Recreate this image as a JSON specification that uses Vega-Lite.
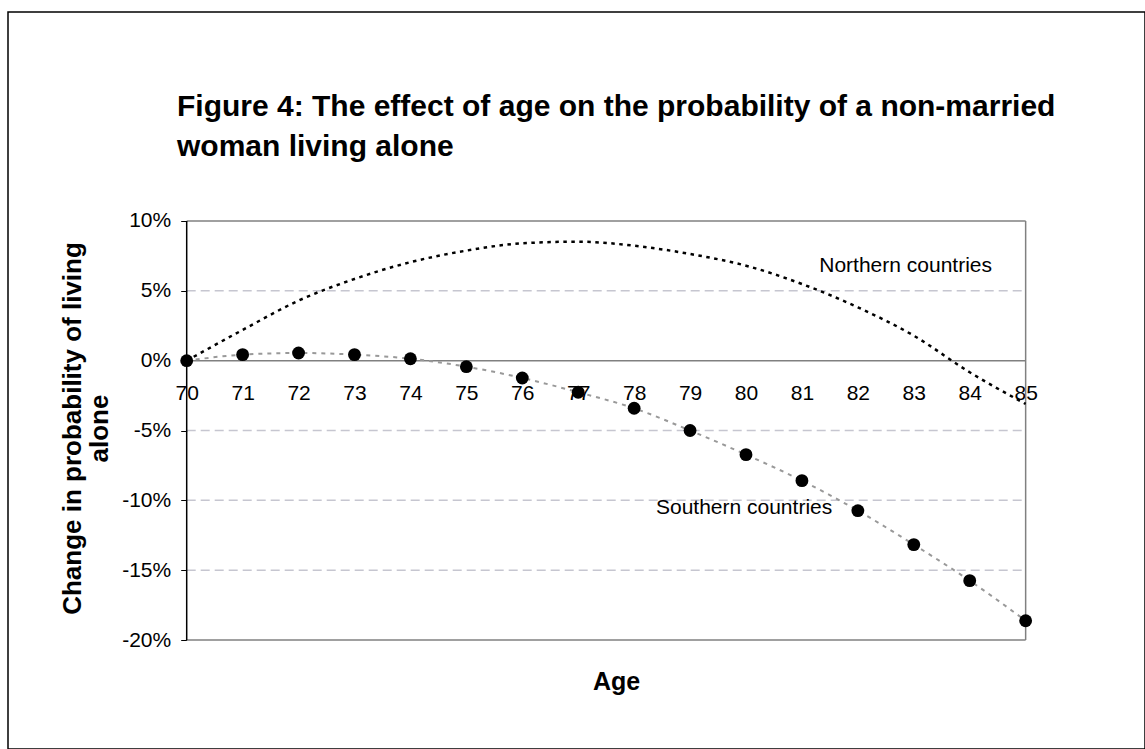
{
  "$schema": "https://vega.github.io/schema/vega-lite/v6.json",
  "width": 1137,
  "height": 737,
  "autosize": {"type": "none"},
  "padding": {"left": 8, "top": 12, "right": 0, "bottom": 0},
  "background": "white",
  "config": {"view": {"stroke": "#000", "strokeWidth": 1.5}, "font": "Liberation Sans"},
  "title": {
    "text": ["Figure 4: The effect of age on the probability of a non-married", "woman living alone"],
    "anchor": "start", "frame": "group", "orient": "top", "offset": -180, "dx": 169,
    "fontSize": 30, "fontWeight": "bold", "color": "#000", "lineHeight": 40, "baseline": "bottom", "font": "Liberation Sans"
  },
  "datasets": {
    "series": [
      {"age": 70, "series": "Northern", "value": 0},
      {"age": 71, "series": "Northern", "value": 2.2},
      {"age": 72, "series": "Northern", "value": 4.3},
      {"age": 73, "series": "Northern", "value": 5.85},
      {"age": 74, "series": "Northern", "value": 7.05},
      {"age": 75, "series": "Northern", "value": 7.88},
      {"age": 76, "series": "Northern", "value": 8.4},
      {"age": 77, "series": "Northern", "value": 8.52},
      {"age": 78, "series": "Northern", "value": 8.23},
      {"age": 79, "series": "Northern", "value": 7.64},
      {"age": 80, "series": "Northern", "value": 6.8},
      {"age": 81, "series": "Northern", "value": 5.49},
      {"age": 82, "series": "Northern", "value": 3.82},
      {"age": 83, "series": "Northern", "value": 1.79},
      {"age": 84, "series": "Northern", "value": -0.83},
      {"age": 85, "series": "Northern", "value": -3.1},
      {"age": 70, "series": "Southern", "value": 0},
      {"age": 71, "series": "Southern", "value": 0.43},
      {"age": 72, "series": "Southern", "value": 0.55},
      {"age": 73, "series": "Southern", "value": 0.43},
      {"age": 74, "series": "Southern", "value": 0.14},
      {"age": 75, "series": "Southern", "value": -0.43},
      {"age": 76, "series": "Southern", "value": -1.24},
      {"age": 77, "series": "Southern", "value": -2.26},
      {"age": 78, "series": "Southern", "value": -3.41},
      {"age": 79, "series": "Southern", "value": -5.0},
      {"age": 80, "series": "Southern", "value": -6.73},
      {"age": 81, "series": "Southern", "value": -8.59},
      {"age": 82, "series": "Southern", "value": -10.74},
      {"age": 83, "series": "Southern", "value": -13.17},
      {"age": 84, "series": "Southern", "value": -15.75},
      {"age": 85, "series": "Southern", "value": -18.62}
    ],
    "grid": [{"value": 5}, {"value": -5}, {"value": -10}, {"value": -15}],
    "frame": [{"value": 10}, {"value": 0}, {"value": -20}],
    "vlines": [{"age": 70}, {"age": 85}],
    "labels": [
      {"age": 81.31, "value": 6.8, "label": "Northern countries"},
      {"age": 78.39, "value": -10.57, "label": "Southern countries"}
    ]
  },
  "layer": [
    {
      "data": {"name": "grid"},
      "mark": {"type": "rule", "color": "#c6c6d0", "strokeWidth": 1.5, "strokeDash": [9, 5]},
      "encoding": {
        "x": {
          "datum": 70, "type": "quantitative",
          "scale": {"domain": [66.805, 87.134], "nice": false, "zero": false},
          "axis": {
            "title": "Age", "orient": "bottom", "offset": -387.3,
            "values": [70, 71, 72, 73, 74, 75, 76, 77, 78, 79, 80, 81, 82, 83, 84, 85],
            "format": "d", "domain": false, "ticks": false, "tickSize": 0, "grid": false,
            "labelFontSize": 21, "labelPadding": 21, "labelColor": "#000", "labelFont": "Liberation Sans",
            "labelOverlap": false, "labelFlush": false, "labelBound": false,
            "titleFontSize": 25, "titleFontWeight": "bold", "titleColor": "#000", "titleFont": "Liberation Sans",
            "titleX": 608, "titleY": 320, "titleBaseline": "middle", "titleAlign": "center"
          }
        },
        "x2": {"datum": 85},
        "y": {
          "field": "value", "type": "quantitative",
          "scale": {"domain": [-27.804, 24.964], "nice": false, "zero": false},
          "axis": {
            "title": ["Change in probability of living", "alone"], "orient": "left", "offset": -178.7,
            "values": [-20, -15, -10, -5, 0, 5, 10], "labelExpr": "datum.value + '%'",
            "domain": false, "ticks": true, "tickSize": 6, "tickColor": "#000", "tickWidth": 1, "grid": false,
            "labelFontSize": 21, "labelPadding": 10, "labelColor": "#000", "labelFont": "Liberation Sans",
            "labelOverlap": false, "labelFlush": false, "labelBound": false,
            "titleFontSize": 26, "titleFontWeight": "bold", "titleColor": "#000", "titleFont": "Liberation Sans",
            "titleX": -114, "titleY": 416, "titleBaseline": "middle", "titleAlign": "center", "titleAngle": 270, "titleLineHeight": 27
          }
        }
      }
    },
    {
      "data": {"name": "frame"},
      "mark": {"type": "rule", "color": "#808080", "strokeWidth": 1.5},
      "encoding": {
        "x": {"datum": 70, "type": "quantitative", "scale": {"domain": [66.805, 87.134], "nice": false, "zero": false}},
        "x2": {"datum": 85},
        "y": {"field": "value", "type": "quantitative", "scale": {"domain": [-27.804, 24.964], "nice": false, "zero": false}}
      }
    },
    {
      "data": {"name": "vlines"},
      "mark": {"type": "rule", "strokeWidth": 1.5},
      "encoding": {
        "x": {"field": "age", "type": "quantitative", "scale": {"domain": [66.805, 87.134], "nice": false, "zero": false}},
        "y": {"datum": -20, "type": "quantitative", "scale": {"domain": [-27.804, 24.964], "nice": false, "zero": false}},
        "y2": {"datum": 10},
        "color": {"field": "age", "type": "nominal", "scale": {"domain": [70, 85], "range": ["#000000", "#808080"]}, "legend": null}
      }
    },
    {
      "data": {"name": "series"},
      "transform": [{"filter": "datum.series === 'Northern'"}],
      "mark": {"type": "line", "color": "#000", "strokeWidth": 2.5, "strokeDash": [3.5, 4.5], "interpolate": "monotone"},
      "encoding": {
        "x": {"field": "age", "type": "quantitative", "scale": {"domain": [66.805, 87.134], "nice": false, "zero": false}},
        "y": {"field": "value", "type": "quantitative", "scale": {"domain": [-27.804, 24.964], "nice": false, "zero": false}}
      }
    },
    {
      "data": {"name": "series"},
      "transform": [{"filter": "datum.series === 'Southern'"}],
      "mark": {"type": "line", "color": "#999999", "strokeWidth": 2, "strokeDash": [4, 5], "interpolate": "monotone"},
      "encoding": {
        "x": {"field": "age", "type": "quantitative", "scale": {"domain": [66.805, 87.134], "nice": false, "zero": false}},
        "y": {"field": "value", "type": "quantitative", "scale": {"domain": [-27.804, 24.964], "nice": false, "zero": false}}
      }
    },
    {
      "data": {"name": "series"},
      "transform": [{"filter": "datum.series === 'Southern'"}],
      "mark": {"type": "circle", "color": "#000", "size": 165, "opacity": 1},
      "encoding": {
        "x": {"field": "age", "type": "quantitative", "scale": {"domain": [66.805, 87.134], "nice": false, "zero": false}},
        "y": {"field": "value", "type": "quantitative", "scale": {"domain": [-27.804, 24.964], "nice": false, "zero": false}}
      }
    },
    {
      "data": {"name": "labels"},
      "mark": {"type": "text", "align": "left", "baseline": "middle", "fontSize": 21, "color": "#000", "font": "Liberation Sans"},
      "encoding": {
        "x": {"field": "age", "type": "quantitative", "scale": {"domain": [66.805, 87.134], "nice": false, "zero": false}},
        "y": {"field": "value", "type": "quantitative", "scale": {"domain": [-27.804, 24.964], "nice": false, "zero": false}},
        "text": {"field": "label"}
      }
    }
  ]
}
